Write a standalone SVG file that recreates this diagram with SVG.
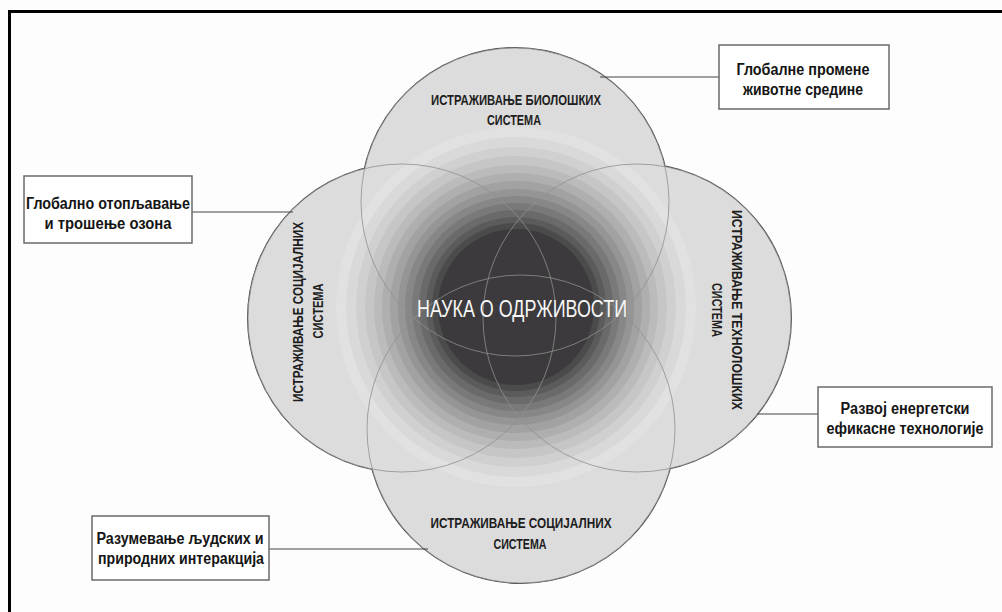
<svg xmlns="http://www.w3.org/2000/svg" width="1002" height="612" viewBox="0 0 1002 612">
<defs>
<style>
.frame{stroke:#000;stroke-width:3;fill:none}
.cedge{fill:none;stroke:#4a4a4a;stroke-width:2}
.cfill{fill:#dcdcdc;stroke:none}
.cline{fill:none;stroke:#8f8f8f;stroke-width:0.8}
.lbl{font-family:"Liberation Sans",Arial,sans-serif;font-size:15px;font-weight:bold;fill:#1e1e1e;text-anchor:middle}
.ctr{font-family:"Liberation Sans",Arial,sans-serif;font-size:24px;fill:#f7f7f7;text-anchor:middle}
.box{fill:#fff;stroke:#6a6a6a;stroke-width:1.5}
.btxt{font-family:"Liberation Sans",Arial,sans-serif;font-size:16px;font-weight:bold;fill:#151515;text-anchor:middle}
.conn{stroke:#444;stroke-width:1.2;fill:none}
</style>
<clipPath id="union">
<circle cx="515" cy="202" r="154"/>
<circle cx="521" cy="429" r="154"/>
<circle cx="402" cy="318" r="154"/>
<circle cx="637" cy="318" r="154"/>
</clipPath>
</defs>
<rect width="1002" height="612" fill="#fdfdfd"/>
<path class="frame" d="M9.5 612 V11.5 H1002"/>

<g id="background">
<circle class="cedge" cx="515" cy="202" r="154"/>
<circle class="cedge" cx="521" cy="429" r="154"/>
<circle class="cedge" cx="402" cy="318" r="154"/>
<circle class="cedge" cx="637" cy="318" r="154"/>
<circle class="cfill" cx="515" cy="202" r="154"/>
<circle class="cfill" cx="521" cy="429" r="154"/>
<circle class="cfill" cx="402" cy="318" r="154"/>
<circle class="cfill" cx="637" cy="318" r="154"/>
<g clip-path="url(#union)">
<circle cx="516" cy="307" r="180" fill="#e1e1e1"/>
<circle cx="516" cy="307" r="170" fill="#d9d9d9"/>
<circle cx="516" cy="307" r="160" fill="#d0d0d0"/>
<circle cx="516" cy="307" r="151" fill="#c6c6c6"/>
<circle cx="516" cy="307" r="142" fill="#bbbbbb"/>
<circle cx="516" cy="307" r="134" fill="#afafaf"/>
<circle cx="516" cy="307" r="126" fill="#a2a2a2"/>
<circle cx="516" cy="307" r="118" fill="#959595"/>
<circle cx="516" cy="307" r="111" fill="#878787"/>
<circle cx="516" cy="307" r="104" fill="#797979"/>
<circle cx="516" cy="307" r="97" fill="#6a6a6a"/>
<circle cx="516" cy="307" r="90" fill="#5b5b5b"/>
<circle cx="516" cy="307" r="84" fill="#4b4b4b"/>
<circle cx="516" cy="307" r="78" fill="#3c3a3c"/>
</g>
</g>

<g id="node-bio">
<circle class="cline" cx="515" cy="202" r="154"/>
<text class="lbl" x="516" y="105" textLength="170" lengthAdjust="spacingAndGlyphs">ИСТРАЖИВАЊЕ БИОЛОШКИХ</text>
<text class="lbl" x="514" y="125" textLength="54" lengthAdjust="spacingAndGlyphs">СИСТЕМА</text>
</g>
<g id="node-soc-bottom">
<circle class="cline" cx="521" cy="429" r="154"/>
<text class="lbl" x="521" y="528" textLength="181" lengthAdjust="spacingAndGlyphs">ИСТРАЖИВАЊЕ СОЦИЈАЛНИХ</text>
<text class="lbl" x="520" y="549" textLength="53" lengthAdjust="spacingAndGlyphs">СИСТЕМА</text>
</g>
<g id="node-soc-left">
<circle class="cline" cx="402" cy="318" r="154"/>
<g transform="translate(297,312) rotate(-90)">
<text class="lbl" x="0" y="5.5" textLength="180" lengthAdjust="spacingAndGlyphs">ИСТРАЖИВАЊЕ СОЦИЈАЛНИХ</text>
<text class="lbl" x="1" y="25.5" textLength="55" lengthAdjust="spacingAndGlyphs">СИСТЕМА</text>
</g>
</g>
<g id="node-tech">
<circle class="cline" cx="637" cy="318" r="154"/>
<g transform="translate(737,310) rotate(90)">
<text class="lbl" x="0" y="5.5" textLength="200" lengthAdjust="spacingAndGlyphs">ИСТРАЖИВАЊЕ ТЕХНОЛОШКИХ</text>
<text class="lbl" x="0" y="25.5" textLength="54" lengthAdjust="spacingAndGlyphs">СИСТЕМА</text>
</g>
</g>
<g id="node-center">
<text class="ctr" x="522" y="317" textLength="210" lengthAdjust="spacingAndGlyphs">НАУКА О ОДРЖИВОСТИ</text>
</g>

<g id="connectors">
<line class="conn" x1="600" y1="77" x2="719" y2="77"/>
<line class="conn" x1="192" y1="212" x2="293" y2="212"/>
<line class="conn" x1="757" y1="414" x2="818" y2="414"/>
<line class="conn" x1="269" y1="549" x2="428" y2="549"/>
</g>

<g id="box-global-env">
<rect class="box" x="719" y="45" width="170" height="64"/>
<text class="btxt" x="803" y="75" textLength="133" lengthAdjust="spacingAndGlyphs">Глобалне промене</text>
<text class="btxt" x="803" y="95" textLength="120" lengthAdjust="spacingAndGlyphs">животне средине</text>
</g>
<g id="box-warming">
<rect class="box" x="24" y="176" width="168" height="67"/>
<text class="btxt" x="108" y="209" textLength="164" lengthAdjust="spacingAndGlyphs">Глобално отопљавање</text>
<text class="btxt" x="108" y="229" textLength="127" lengthAdjust="spacingAndGlyphs">и трошење озона</text>
</g>
<g id="box-energy">
<rect class="box" x="818" y="387" width="174" height="60"/>
<text class="btxt" x="905" y="414" textLength="129" lengthAdjust="spacingAndGlyphs">Развој енергетски</text>
<text class="btxt" x="905" y="434" textLength="157" lengthAdjust="spacingAndGlyphs">ефикасне технологије</text>
</g>
<g id="box-human">
<rect class="box" x="92" y="516" width="177" height="64"/>
<text class="btxt" x="180" y="544" textLength="167" lengthAdjust="spacingAndGlyphs">Разумевање људских и</text>
<text class="btxt" x="181" y="564" textLength="166" lengthAdjust="spacingAndGlyphs">природних интеракција</text>
</g>
</svg>
